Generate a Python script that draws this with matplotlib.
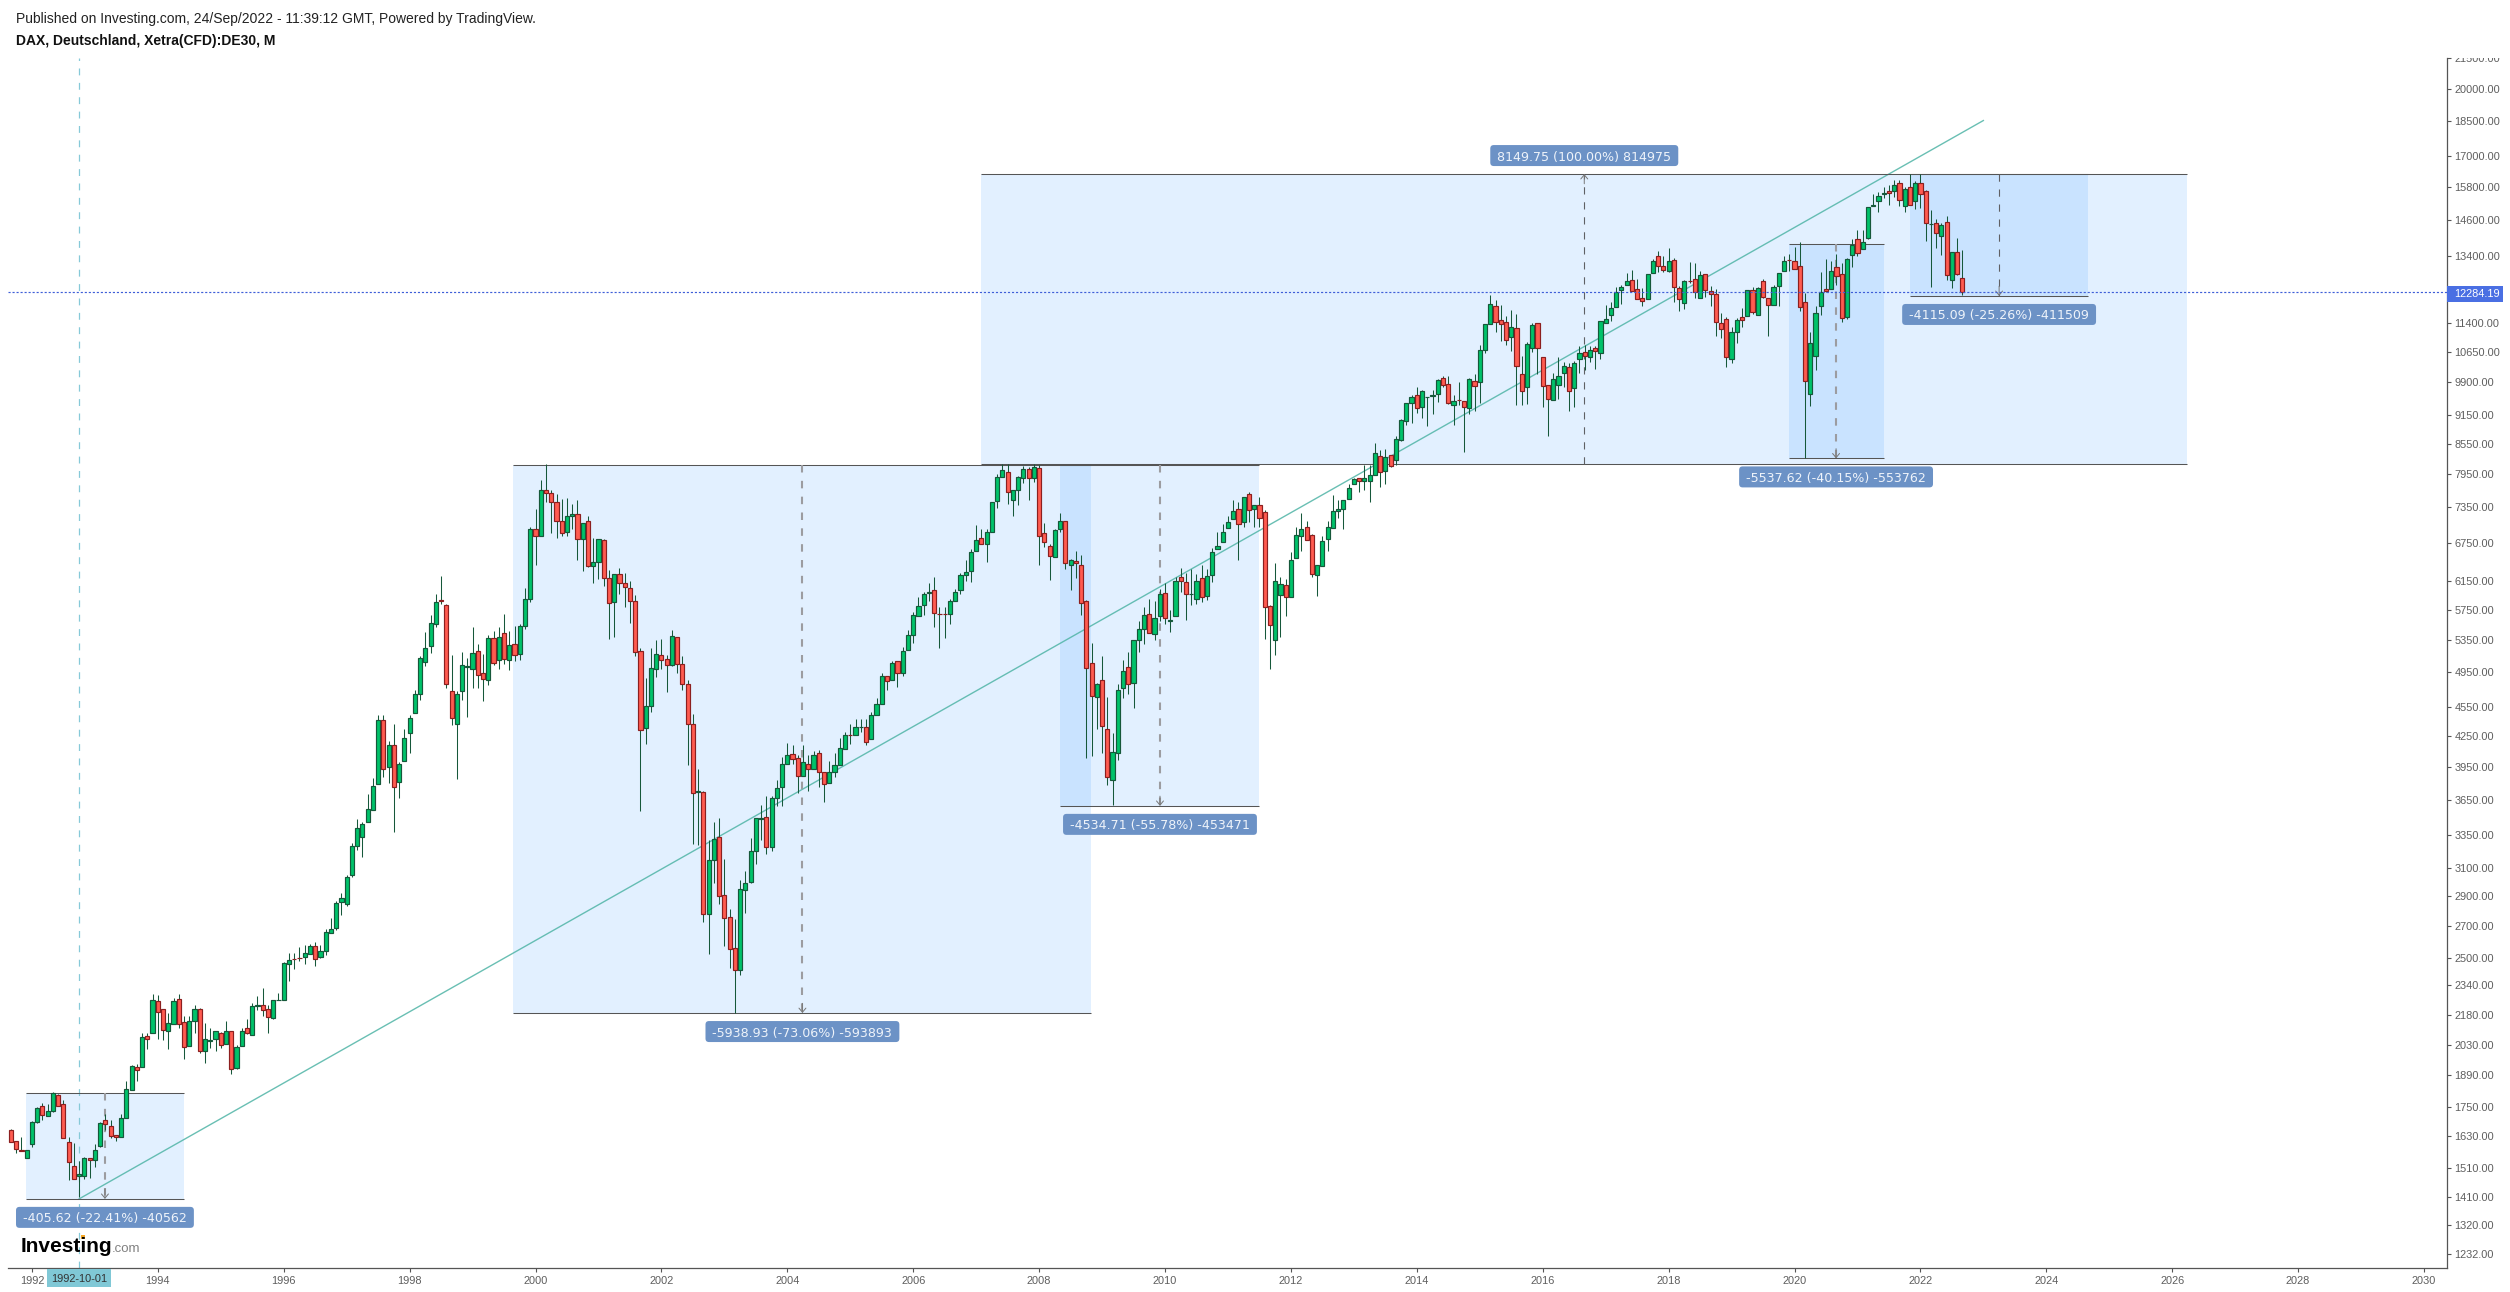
from matplotlib import pyplot as plt
from matplotlib.patches import FancyBboxPatch, Rectangle
from matplotlib.transforms import Bbox, IdentityTransform
import numpy as np

W, H = 2510, 1292

# monthly candles, first one is 1991-09, one row per calendar year
opens = [
    1655, 1611, 1578, 1550,
    1601, 1688, 1753, 1710, 1733, 1800, 1760, 1609, 1520, 1483, 1483, 1548,
    1541, 1592, 1697, 1672, 1636, 1629, 1703, 1821, 1925, 1925, 2073, 2090,
    2253, 2210, 2100, 2135, 2264, 2145, 2025, 2150, 2210, 1998, 2050, 2057,
    2090, 2032, 2100, 1920, 2022, 2115, 2080, 2225, 2235, 2210, 2165, 2258,
    2262, 2462, 2495, 2500, 2503, 2522, 2570, 2503, 2540, 2655, 2685, 2855,
    2842, 3045, 3265, 3340, 3455, 3560, 3790, 4420, 3945, 4155, 3805, 4005,
    4275, 4490, 4700, 5075, 5270, 5555, 5880, 5815, 4735, 4370, 4730, 5010,
    4990, 5205, 4945, 4855, 5370, 5100, 5435, 5095, 5300, 5165, 5527, 5900,
    6975, 6860, 7660, 7605, 7430, 7115, 6925, 7190, 7220, 6810, 7100, 6380,
    6440, 6790, 6200, 5850, 6260, 6125, 6050, 5870, 5210, 4330, 4560, 4990,
    5155, 5110, 5040, 5380, 5045, 4815, 4370, 3715, 3715, 2775, 3158, 3340,
    2905, 2755, 2560, 2425, 2940, 2995, 3225, 3485, 3500, 3260, 3665, 3760,
    3975, 4070, 4030, 3860, 3975, 3925, 4080, 3900, 3800, 3900, 3965, 4120,
    4260, 4255, 4340, 4345, 4220, 4470, 4590, 4905, 4855, 5090, 4935, 5225,
    5410, 5665, 5815, 5980, 6020, 5695, 5695, 5690, 5870, 6020, 6250, 6305,
    6615, 6825, 6725, 6925, 7450, 7900, 7985, 7480, 7660, 7875, 8040, 7875,
    8060, 6900, 6695, 6515, 6980, 7100, 6390, 6465, 6400, 5870, 5065, 4665,
    4860, 4320, 3825, 4080, 4770, 5010, 4825, 5340, 5495, 5695, 5420, 5665,
    5985, 5600, 5665, 6210, 6135, 5965, 5900, 6205, 5945, 6250, 6640, 6760,
    6985, 7140, 7315, 7090, 7590, 7315, 7385, 7260, 5805, 5340, 5950, 6095,
    5920, 6500, 6850, 7005, 6880, 6250, 6385, 6800, 6985, 7280, 7320, 7490,
    7760, 7870, 7820, 7830, 7925, 8300, 8015, 8320, 8215, 8620, 9035, 9420,
    9600, 9330, 9550, 9595, 9640, 10010, 9870, 9380, 9495, 9470, 9310, 9940,
    9900, 10710, 11390, 11890, 11490, 11440, 11050, 11280, 10110, 9800, 10750, 11410,
    10510, 9845, 9490, 9845, 10120, 10270, 9760, 10470, 10650, 10510, 10760, 10620,
    11410, 11620, 11860, 12360, 12490, 12640, 12395, 12130, 12080, 12860, 13390, 13070,
    12920, 13260, 12400, 11980, 12615, 12670, 12130, 12830, 12330, 12240, 11420, 11530,
    10460, 11170, 11590, 11610, 12340, 11640, 12610, 12120, 11910, 12460, 12930, 13285,
    13250, 13070, 12010, 9630, 10540, 11900, 12390, 12370, 13040, 12820, 11590, 13430,
    13950, 13620, 14000, 15100, 15290, 15550, 15670, 15670, 15970, 15100, 15790, 15280,
    15970, 15670, 14465, 14490, 14050, 14520, 12650, 13520, 12720,
]
highs = [
    1660, 1611, 1629, 1577,
    1692, 1749, 1766, 1760, 1811, 1805, 1780, 1628, 1606, 1537, 1552, 1548,
    1600, 1689, 1720, 1695, 1636, 1720, 1860, 1936, 1940, 2090, 2090, 2290,
    2285, 2210, 2190, 2270, 2290, 2175, 2175, 2235, 2215, 2140, 2115, 2100,
    2095, 2150, 2100, 2030, 2115, 2160, 2245, 2280, 2325, 2230, 2258, 2295,
    2475, 2530, 2528, 2565, 2578, 2585, 2595, 2578, 2680, 2750, 2865, 2920,
    3045, 3290, 3485, 3455, 3695, 3845, 4470, 4470, 4195, 4370, 3995, 4320,
    4465, 4745, 5150, 5450, 5680, 5970, 6235, 5830, 5160, 4735, 5190, 5120,
    5510, 5295, 5165, 5410, 5460, 5510, 5690, 5460, 5530, 5560, 6050, 7010,
    7315, 7840, 8136, 7660, 7590, 7490, 7500, 7400, 7470, 7080, 7190, 6820,
    6810, 6800, 6320, 6260, 6350, 6280, 6150, 5960, 5240, 4880, 5240, 5350,
    5360, 5160, 5480, 5390, 5140, 4860, 4480, 3930, 3725, 3310, 3455, 3490,
    3165, 2810, 2740, 3010, 3075, 3330, 3495, 3600, 3680, 3680, 3820, 4040,
    4180, 4160, 4060, 4160, 4060, 4100, 4110, 3900, 4005, 4080, 4230, 4285,
    4370, 4430, 4430, 4430, 4500, 4650, 4945, 4905, 5090, 5090, 5260, 5480,
    5710, 5930, 5990, 6130, 6210, 5785, 5785, 5900, 6040, 6280, 6470, 6640,
    7040, 6975, 6975, 7445, 7960, 8136, 8136, 7660, 7910, 8100, 8080, 8136,
    8130, 7080, 6725, 6975, 7240, 7110, 6485, 6620, 6550, 5880, 5310, 4820,
    5150, 4670, 4280, 4810, 5100, 5200, 5340, 5590, 5780, 5900, 5870, 6040,
    6130, 5745, 6220, 6350, 6280, 6330, 6260, 6400, 6340, 6670, 6920, 7060,
    7190, 7470, 7440, 7530, 7610, 7385, 7530, 7290, 5810, 6430, 6210, 6180,
    6600, 7000, 7250, 7110, 6890, 6400, 6855, 7100, 7560, 7480, 7480, 7760,
    7880, 7870, 8130, 8130, 8560, 8420, 8450, 8330, 8700, 9080, 9420, 9600,
    9800, 9720, 9560, 9720, 9990, 10060, 10050, 9600, 9910, 9480, 10000, 10110,
    10830, 11390, 12200, 12070, 11920, 11600, 11780, 11660, 10550, 10900, 11410, 11410,
    10510, 9845, 10130, 10510, 10390, 10380, 10420, 10810, 10820, 10810, 10800, 11480,
    11920, 12000, 12430, 12510, 12850, 12960, 12690, 12410, 12830, 13300, 13570, 13400,
    13660, 13340, 12480, 12650, 13220, 13180, 12920, 12830, 12480, 12370, 11680, 11580,
    11300, 11560, 11820, 12340, 12430, 12430, 12690, 12120, 12500, 12870, 13410, 13450,
    13680, 13860, 12270, 11180, 11900, 12900, 13300, 13230, 13460, 13170, 13320, 13960,
    14250, 14250, 15050, 15540, 15600, 15810, 15860, 16050, 16050, 15810, 16290, 16020,
    16290, 15700, 14970, 14620, 14490, 14730, 13520, 13980, 13590,
]
lows = [
    1609, 1565, 1575, 1547,
    1589, 1682, 1696, 1710, 1730, 1755, 1626, 1468, 1472, 1409, 1472, 1475,
    1514, 1588, 1657, 1626, 1612, 1629, 1703, 1821, 1860, 1925, 2010, 2090,
    2060, 2055, 2010, 2135, 2115, 1960, 2025, 2090, 1990, 1945, 2015, 2000,
    2015, 2032, 1895, 1915, 2022, 2085, 2080, 2205, 2175, 2090, 2160, 2258,
    2262, 2365, 2432, 2483, 2460, 2522, 2448, 2497, 2515, 2655, 2672, 2767,
    2828, 3035, 3235, 3180, 3455, 3560, 3790, 3855, 3796, 3380, 3665, 4005,
    4075, 4490, 4630, 5020, 5180, 5515, 5830, 4770, 4360, 3830, 4630, 4450,
    4770, 4770, 4625, 4795, 5030, 4990, 5045, 4970, 5080, 5100, 5490, 5860,
    6400, 6860, 7430, 6900, 6820, 6860, 6860, 6980, 6480, 6300, 6370, 6120,
    6190, 6090, 5360, 5390, 5970, 5790, 5570, 5140, 3550, 4165, 4495, 4890,
    4990, 4720, 5025, 4945, 4745, 3965, 3280, 3270, 2725, 2525, 2990, 2845,
    2570, 2440, 2190, 2400, 2785, 2990, 3125, 3310, 3205, 3225, 3590, 3595,
    3975, 3970, 3710, 3860, 3725, 3925, 3760, 3630, 3800, 3850, 3965, 4120,
    4170, 4255, 4285, 4160, 4220, 4465, 4590, 4740, 4855, 4780, 4900, 5225,
    5310, 5665, 5680, 5870, 5520, 5250, 5375, 5560, 5870, 5970, 6150, 6140,
    6610, 6725, 6450, 6925, 7330, 7900, 7400, 7200, 7390, 7780, 7470, 7810,
    6400, 6680, 6170, 6515, 6920, 6330, 6030, 6200, 5680, 4030, 4050, 4320,
    4080, 3775, 3600, 4010, 4650, 4700, 4540, 5190, 5300, 5430, 5340, 5590,
    5560, 5450, 5660, 5990, 5610, 5820, 5825, 5860, 5880, 6140, 6640, 6760,
    6985, 7140, 6480, 7010, 7085, 7010, 7010, 5360, 4990, 5160, 5385, 5665,
    5920, 6500, 6620, 6785, 6220, 5945, 6385, 6610, 6985, 7150, 6980, 7490,
    7760, 7620, 7660, 7430, 7925, 7700, 7770, 8095, 8120, 8600, 8950, 8980,
    9210, 9090, 8930, 9190, 9450, 9800, 9410, 8940, 9390, 8380, 9170, 9250,
    9420, 10620, 11390, 11180, 10940, 10820, 10680, 9390, 9370, 9410, 10640, 10100,
    9330, 8720, 9490, 9505, 9800, 9240, 9330, 10130, 10200, 10390, 10220, 10470,
    11410, 11480, 11860, 11930, 12490, 12335, 12100, 11880, 12080, 12850, 12890, 12890,
    12900, 12000, 11750, 11790, 12570, 12130, 12130, 12150, 11890, 11060, 11000, 10270,
    10380, 10880, 11300, 11600, 11650, 11640, 12120, 11060, 11910, 11880, 12930, 12930,
    13000, 11750, 8255, 9360, 10190, 11620, 12300, 12370, 12500, 11450, 11530, 13040,
    13400, 13620, 13950, 15100, 14900, 15390, 15150, 15430, 15100, 14890, 15140, 15000,
    15030, 13880, 12440, 13640, 13440, 12650, 12420, 12810, 12190,
]
closes = [
    1609, 1581, 1575, 1577,
    1688, 1747, 1718, 1733, 1808, 1755, 1626, 1535, 1472, 1489, 1548, 1540,
    1578, 1685, 1680, 1630, 1629, 1705, 1825, 1930, 1912, 2068, 2060, 2258,
    2195, 2105, 2140, 2253, 2135, 2020, 2150, 2210, 2000, 2060, 2054, 2100,
    2027, 2100, 1915, 2017, 2100, 2090, 2225, 2235, 2205, 2170, 2258, 2262,
    2468, 2485, 2490, 2496, 2528, 2570, 2492, 2540, 2660, 2680, 2848, 2885,
    3035, 3265, 3410, 3440, 3570, 3770, 4410, 3928, 4155, 3760, 3975, 4225,
    4440, 4700, 5115, 5243, 5565, 5860, 5870, 4815, 4435, 4700, 5040, 5020,
    5180, 4915, 4875, 5370, 5065, 5385, 5105, 5285, 5155, 5527, 5900, 6975,
    6850, 7660, 7605, 7430, 7115, 6900, 7190, 7220, 6810, 7080, 6380, 6440,
    6810, 6200, 5840, 6260, 6125, 6065, 5870, 5190, 4310, 4560, 5000, 5165,
    5100, 5040, 5395, 5045, 4815, 4370, 3710, 3725, 2775, 3158, 3320, 2895,
    2750, 2555, 2425, 2945, 2990, 3225, 3490, 3495, 3260, 3665, 3755, 3975,
    4060, 4020, 3860, 3995, 3930, 4060, 3900, 3790, 3900, 3965, 4130, 4255,
    4255, 4345, 4345, 4185, 4470, 4590, 4905, 4845, 5065, 4945, 5205, 5410,
    5680, 5800, 5975, 5990, 5705, 5690, 5690, 5870, 6000, 6250, 6290, 6600,
    6790, 6725, 6925, 7430, 7900, 8020, 7610, 7660, 7890, 8040, 7875, 8080,
    6860, 6760, 6530, 6950, 7100, 6420, 6480, 6420, 5840, 5005, 4680, 4815,
    4350, 3850, 4085, 4745, 4960, 4815, 5340, 5485, 5680, 5440, 5640, 5970,
    5630, 5610, 6160, 6150, 5975, 5975, 6160, 5930, 6235, 6605, 6690, 6920,
    7085, 7280, 7060, 7530, 7300, 7385, 7150, 5790, 5540, 6150, 6110, 5920,
    6470, 6865, 6970, 6785, 6265, 6400, 6780, 7000, 7280, 7320, 7480, 7690,
    7860, 7820, 7870, 7925, 8360, 7985, 8280, 8100, 8650, 9040, 9420, 9560,
    9310, 9700, 9560, 9600, 9960, 9845, 9420, 9470, 9485, 9330, 9990, 9820,
    10690, 11390, 11950, 11440, 11390, 10950, 11310, 10300, 9710, 10850, 11360, 10750,
    9820, 9520, 9990, 10050, 10300, 9700, 10370, 10620, 10540, 10700, 10680, 11480,
    11530, 11830, 12300, 12430, 12610, 12335, 12100, 12030, 12830, 13240, 13070, 12950,
    13230, 12440, 12100, 12610, 12605, 12300, 12800, 12360, 12240, 11450, 11250, 10530,
    11170, 11500, 11500, 12340, 11720, 12400, 12160, 11910, 12430, 12850, 13250, 13275,
    13000, 11870, 9940, 10870, 11690, 12300, 12310, 12940, 12760, 11560, 13310, 13770,
    13480, 13850, 15050, 15150, 15470, 15565, 15560, 15860, 15330, 15720, 15140, 15940,
    15540, 14490, 14475, 14150, 14420, 12800, 13520, 12840, 12284.19,
]

last_price = 12284.19
price_ticks = [21500, 20000, 18500, 17000, 15800, 14600, 13400, 11400, 10650, 9900,
               9150, 8550, 7950, 7350, 6750, 6150, 5750, 5350, 4950, 4550, 4250, 3950,
               3650, 3350, 3100, 2900, 2700, 2500, 2340, 2180, 2030, 1890, 1750, 1630,
               1510, 1410, 1320, 1232]
year_ticks = list(range(1992, 2031, 2))

# measure boxes
box_start = [1991.91, 1999.65, 2008.33, 2007.07, 2019.91, 2021.84]
box_end = [1994.41, 2008.83, 2011.50, 2026.23, 2021.42, 2024.66]
box_arrow = [1993.16, 2004.24, 2009.92, 2016.66, 2020.66, 2023.25]
box_from = [1810, 8129, 8130, 8150, 13792, 16291]
box_to = [1404, 2190, 3595, 16299, 8255, 12176]
box_text = ['-405.62 (-22.41%) -40562', '-5938.93 (-73.06%) -593893',
            '-4534.71 (-55.78%) -453471', '8149.75 (100.00%) 814975',
            '-5537.62 (-40.15%) -553762', '-4115.09 (-25.26%) -411509']
box_thick = [True, True, True, False, True, False]

trend_x = [1992.75, 2023.0]
trend_y = [1404, 18526]
cursor_x = 1992.75

GREEN, RED = '#00c26a', '#ff5b50'
GREEN_EDGE, RED_EDGE = '#16583a', '#8c1f1f'
LABEL_GREY = '#5e5e5e'
AXIS_GREY = '#555555'


def px_fig(x, y):
    # reference pixel (y from the top) to figure fraction
    return x / W, 1 - y / H


def tag(fig, x0, y0, x1, y1, color):
    fig.add_artist(Rectangle(px_fig(x0, y1), (x1 - x0) / W, (y1 - y0) / H,
                             transform=fig.transFigure, color=color, lw=0))


def draw_candles(ax):
    o, h, l, c = map(np.array, (opens, highs, lows, closes))
    x = 1991 + (8 + np.arange(len(o))) / 12
    up = c >= o
    ax.vlines(x, l, h, colors=GREEN_EDGE, lw=0.75, zorder=4)
    ax.bar(x, np.abs(c - o), bottom=np.minimum(o, c), width=0.066,
           color=np.where(up, GREEN, RED), edgecolor=np.where(up, GREEN_EDGE, RED_EDGE),
           linewidth=0.85, zorder=5)


def draw_boxes(ax):
    renderer = ax.figure.canvas.get_renderer()
    for i in range(len(box_text)):
        x0, x1, xa = box_start[i], box_end[i], box_arrow[i]
        y0, y1 = box_from[i], box_to[i]
        ax.add_patch(Rectangle((x0, min(y0, y1)), x1 - x0, abs(y1 - y0),
                               color='#1e8cff', alpha=0.125, lw=0, zorder=1))
        ax.hlines([y0, y1], x0, x1, colors=AXIS_GREY, lw=0.75, zorder=3)

        thick = box_thick[i]
        color = '#9c9ca0' if thick else '#5f6064'
        ax.plot([xa, xa], [y0, y1], color=color, lw=1.5 if thick else 0.8,
                dashes=(3.6, 4) if thick else (6.5, 7), zorder=3)
        ax.annotate('', xy=(xa, y1), xytext=(0, 7 if y1 < y0 else -7),
                    textcoords='offset points', zorder=3,
                    arrowprops=dict(arrowstyle='->,head_length=0.3,head_width=0.25',
                                    color='#777777', lw=0.7, shrinkA=0, shrinkB=0))

        # label sits a fixed number of pixels off the end of the arrow
        xd, yd = ax.transData.transform((xa, y1))
        yd += 18.5 if y1 > y0 else -18.5
        text = ax.text(xd, yd, box_text[i], transform=IdentityTransform(), color='#eef3fa',
                       fontsize=9.1, family='DejaVu Sans', ha='center',
                       va='center_baseline', zorder=8)
        half = text.get_window_extent(renderer).width / 2 + 4
        ax.add_patch(FancyBboxPatch((xd - half, yd - 7.5), 2 * half, 15,
                                    boxstyle='round,pad=3,rounding_size=3.5',
                                    transform=IdentityTransform(), fc='#6c92c6', ec='none',
                                    clip_on=False, zorder=7))


def display_chart():
    plt.rcParams['font.family'] = ['Liberation Sans', 'DejaVu Sans']
    fig = plt.figure(figsize=(W / 100, H / 100), dpi=100, facecolor='white')
    ax = fig.add_axes([8 / W, (H - 1268) / H, (2447 - 8) / W, (1268 - 58) / H])

    ax.set_yscale('log')
    ax.set_xlim(1991.62, 2030.365)
    ax.set_ylim(1190, 21515)

    ax.plot(trend_x, trend_y, color='#4fb4a6', lw=1.0, alpha=0.85, zorder=2)
    ax.axvline(cursor_x, color='#86c9d8', lw=0.9, dashes=(5.5, 6), zorder=2)
    draw_candles(ax)
    draw_boxes(ax)
    ax.axhline(last_price, color='#3f5fd8', lw=0.85, dashes=(1.8, 1.6), zorder=6)

    for side in ('top', 'left'):
        ax.spines[side].set_visible(False)
    for side in ('bottom', 'right'):
        ax.spines[side].set_color(AXIS_GREY)
        ax.spines[side].set_linewidth(0.9)

    ax.yaxis.tick_right()
    ax.set_yticks(price_ticks, ['%.2f' % p for p in price_ticks])
    ax.minorticks_off()
    ax.tick_params(axis='y', which='major', length=3, width=0.8, color=AXIS_GREY,
                   labelcolor=LABEL_GREY, labelsize=7.9, pad=2.5)
    ax.set_xticks(year_ticks, [str(y) for y in year_ticks])
    ax.tick_params(axis='x', length=3, width=0.8, color=AXIS_GREY,
                   labelcolor=LABEL_GREY, labelsize=7.9, pad=2.5)

    # the topmost price label is cut by the pane edge
    for label in ax.get_yticklabels():
        label.set_clip_box(Bbox([[2448, 0], [W, H - 58]]))
        label.set_clip_on(True)

    # price tag and cursor date tag
    tag(fig, 2447, 286, 2503, 302, '#4a6fe3')
    fig.text(*px_fig(2454, 294), '12284.19', color='white', fontsize=7.9, va='center')
    tag(fig, 47, 1268.5, 111, 1287, '#80c8d6')
    fig.text(*px_fig(79, 1279), '1992-10-01', color='#333333', fontsize=7.9,
             ha='center', va='center')

    # header
    fig.text(*px_fig(16, 23), 'Published on Investing.com, 24/Sep/2022 - 11:39:12 GMT, '
             'Powered by TradingView.', color='#222222', fontsize=10, va='baseline')
    fig.text(*px_fig(16, 45), 'DAX, Deutschland, Xetra(CFD):DE30, M', color='#111111',
             fontsize=10, fontweight='bold', va='baseline')

    # logo
    fig.text(*px_fig(21, 1252), 'Investing', color='black', fontsize=15, fontweight='bold',
             va='baseline')
    fig.text(*px_fig(112, 1252), '.com', color='#808080', fontsize=9.5, va='baseline')
    tag(fig, 81, 1235, 85, 1239, '#f5a623')

    fig.savefig('out.png', dpi=100)


if __name__ == '__main__':
    display_chart()
